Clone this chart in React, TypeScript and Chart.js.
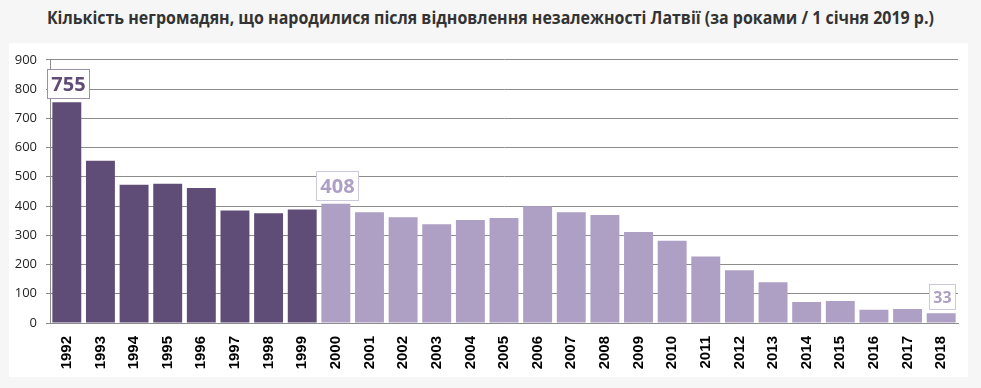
import React, { useEffect, useLayoutEffect, useRef } from "react";
import { Chart, registerables } from "chart.js";

Chart.register(...registerables);

const titleText =
  "Кількість негромадян, що народилися після відновлення незалежності Латвії (за роками / 1 січня 2019 р.)";

const years = [
  "1992", "1993", "1994", "1995", "1996", "1997", "1998", "1999", "2000",
  "2001", "2002", "2003", "2004", "2005", "2006", "2007", "2008", "2009",
  "2010", "2011", "2012", "2013", "2014", "2015", "2016", "2017", "2018",
];

const counts = [
  755, 555, 473, 476, 462, 385, 375, 388, 408,
  379, 362, 338, 352, 359, 399, 379, 369, 311,
  281, 227, 180, 139, 72, 75, 45, 48, 33,
];

// years before this one are drawn in the dark colour
const firstLightYear = "2000";
// years whose value is shown in a framed label
const labelledYears = ["1992", "2000", "2018"];
const labelFontSizes = [20, 20, 16];

const yTicks = [0, 100, 200, 300, 400, 500, 600, 700, 800, 900];

const DARK = "#5f4d78";
const LIGHT = "#ae9fc4";

export default function App() {
  const canvasRef = useRef<HTMLCanvasElement | null>(null);
  const titleRef = useRef<HTMLSpanElement | null>(null);

  useLayoutEffect(() => {
    document.body.style.margin = "0";
    const el = titleRef.current;
    if (el) {
      el.style.transform = "none";
      const w = el.getBoundingClientRect().width;
      const target = 887;
      el.style.transform = `scaleX(${target / w})`;
    }
  }, []);

  useEffect(() => {
    if (!canvasRef.current) return;
    const splitIdx = years.indexOf(firstLightYear);
    const colors = years.map((_, i) => (i < splitIdx ? DARK : LIGHT));

    const labelPlugin = {
      id: "boxLabels",
      afterDatasetsDraw(chart: any) {
        const ctx = chart.ctx;
        const meta = chart.getDatasetMeta(0);
        labelledYears.forEach((yr, k) => {
          const i = years.indexOf(yr);
          const bar = meta.data[i];
          if (!bar) return;
          const fs = labelFontSizes[k];
          const color = i < splitIdx ? DARK : LIGHT;
          ctx.save();
          ctx.font = `bold ${fs}px "Open Sans", sans-serif`;
          const text = String(counts[i]);
          const tw = ctx.measureText(text).width;
          const bw = Math.round(tw + 8);
          const bh = Math.round(fs + 9);
          const bx = Math.round(bar.x - bw / 2 + 1) + 0.5;
          const by = Math.round(bar.y - 4 - bh) + 0.5;
          ctx.fillStyle = "#ffffff";
          ctx.fillRect(bx, by, bw, bh);
          ctx.strokeStyle = i < splitIdx ? "#9a90a8" : "#cfc7dc";
          ctx.lineWidth = 1;
          ctx.strokeRect(bx, by, bw, bh);
          ctx.fillStyle = color;
          ctx.textAlign = "center";
          ctx.textBaseline = "middle";
          ctx.fillText(text, bx + bw / 2, by + bh / 2 + 1);
          ctx.restore();
        });
      },
    };

    const chart = new Chart(canvasRef.current, {
      type: "bar",
      data: {
        labels: years,
        datasets: [
          {
            data: counts,
            backgroundColor: colors,
            borderWidth: 0,
            barPercentage: 0.86,
            categoryPercentage: 1,
          },
        ],
      },
      options: {
        animation: false,
        responsive: false,
        maintainAspectRatio: false,
        layout: { padding: { top: 7, right: 10, left: 0, bottom: 0 } },
        plugins: {
          legend: { display: false },
          tooltip: { enabled: false },
          title: { display: false },
        },
        scales: {
          x: {
            offset: true,
            grid: { display: false, drawTicks: false },
            border: { display: true, color: "#8c8c8c", width: 1 },
            ticks: {
              minRotation: 90,
              maxRotation: 90,
              autoSkip: false,
              padding: 13,
              color: "#000000",
              font: { family: "'Liberation Sans', Arial, sans-serif", size: 15, weight: "bold" },
            },
            afterFit(scale: any) {
              scale.height = 54;
              scale.paddingLeft = 0;
              scale.paddingRight = 0;
            },
          },
          y: {
            min: 0,
            max: 900,
            afterBuildTicks(scale: any) {
              scale.ticks = yTicks.map((v) => ({ value: v }));
            },
            grid: {
              color: "#8c8c8c",
              lineWidth: 1,
              drawTicks: true,
              tickLength: 4,
            },
            border: { display: true, color: "#8c8c8c", width: 1 },
            ticks: {
              padding: 9,
              color: "#222222",
              font: { family: "'Open Sans', sans-serif", size: 13 },
            },
            afterFit(scale: any) {
              scale.width = 41;
            },
          },
        },
      },
      plugins: [labelPlugin],
    });
    return () => chart.destroy();
  }, []);

  return (
    <div
      style={{
        position: "relative",
        width: 981,
        height: 388,
        background: "#f6f6f6",
        overflow: "hidden",
      }}
    >
      <div
        style={{
          position: "absolute",
          left: 0,
          top: 6,
          width: 981,
          textAlign: "center",
          lineHeight: "24px",
          height: 24,
          whiteSpace: "nowrap",
        }}
      >
        <span
          ref={titleRef}
          style={{
            display: "inline-block",
            fontFamily: "'Open Sans', sans-serif",
            fontWeight: 700,
            fontSize: 17,
            color: "#333333",
            transformOrigin: "center center",
          }}
        >
          {titleText}
        </span>
      </div>
      <div
        style={{
          position: "absolute",
          left: 9,
          top: 43,
          width: 959,
          height: 334,
          background: "#ffffff",
        }}
      >
        <canvas ref={canvasRef} width={959} height={334} style={{ display: "block" }} />
      </div>
    </div>
  );
}
